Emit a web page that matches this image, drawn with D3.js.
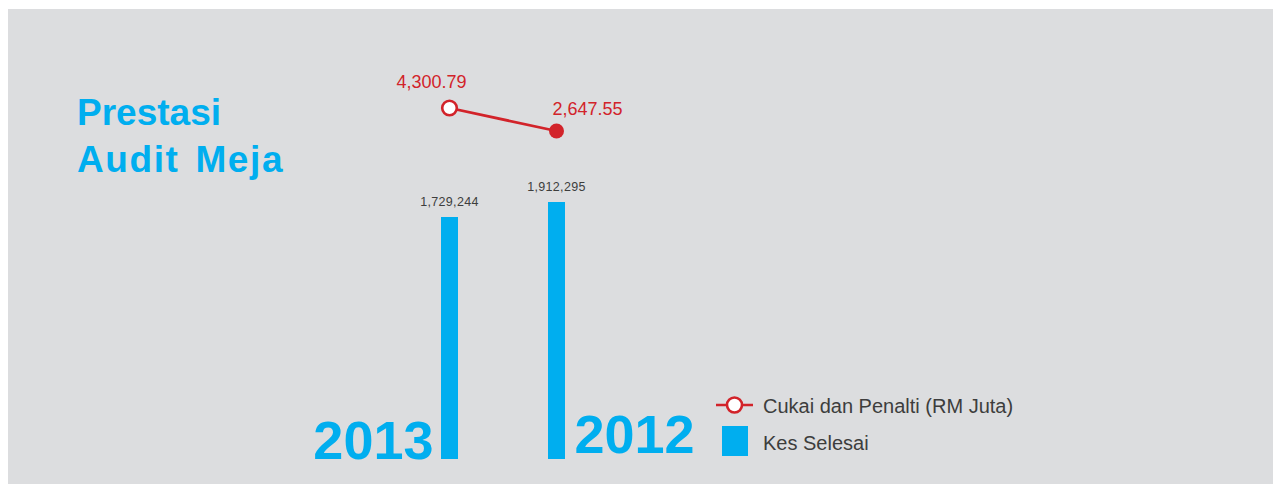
<!DOCTYPE html>
<html>
<head>
<meta charset="utf-8">
<script src="https://cdn.jsdelivr.net/npm/d3@7"></script>
<style>
  body { margin: 0; background: #ffffff; }
  svg { display: block; font-family: "Liberation Sans", Arial, sans-serif; }
</style>
</head>
<body>
<div id="chartDiv"></div>
<script>
// data
var years = ["2013", "2012"];
var kesSelesai = [1729244, 1912295];
var cukaiPenalti = [4300.79, 2647.55];
var legendLabels = ["Cukai dan Penalti (RM Juta)", "Kes Selesai"];
var titleLines = ["Prestasi", "Audit Meja"];

var width = 1274;
var height = 484;
var blue = "#00aeef";
var red = "#d2232a";
var textGrey = "#3d3d3d";

var svg = d3.select("#chartDiv").append("svg")
  .attr("width", width)
  .attr("height", height);

// grey panel
svg.append("rect")
  .attr("x", 8).attr("y", 9)
  .attr("width", width - 9).attr("height", height - 9)
  .attr("fill", "#dcdddf");

// title
svg.append("text")
  .attr("x", 77)
  .attr("fill", blue)
  .style("font-size", "37px")
  .style("font-weight", "bold")
  .selectAll("tspan")
  .data(titleLines)
  .enter().append("tspan")
    .attr("x", 77)
    .attr("y", function(d, i) { return 125 + i * 47; })
    .style("letter-spacing", function(d, i) { return i == 0 ? "0px" : "1.6px"; })
    .style("word-spacing", function(d, i) { return i == 0 ? "0px" : "4px"; })
    .text(function(d) { return d; });

// scales
var x = d3.scalePoint().domain(years).range([449.5, 556.5]);
var yBar = d3.scaleLinear().domain([-1224000, 1912295]).range([459, 202]);
var yLine = d3.scaleLinear().domain([2647.55, 4300.79]).range([131, 108]);
var barWidth = 17;

var fmtBar = d3.format(",");
var fmtLine = d3.format(",.2f");

// bars
svg.selectAll(".bar")
  .data(kesSelesai)
  .enter().append("rect")
    .attr("class", "bar")
    .attr("x", function(d, i) { return x(years[i]) - barWidth / 2; })
    .attr("y", function(d) { return yBar(d); })
    .attr("width", barWidth)
    .attr("height", function(d) { return yBar.range()[0] - yBar(d); })
    .attr("fill", blue);

svg.selectAll(".barLabel")
  .data(kesSelesai)
  .enter().append("text")
    .attr("class", "barLabel")
    .attr("x", function(d, i) { return x(years[i]); })
    .attr("y", function(d) { return yBar(d) - 11; })
    .attr("text-anchor", "middle")
    .attr("fill", textGrey)
    .style("font-size", "12.5px")
    .style("letter-spacing", "0.3px")
    .text(function(d) { return fmtBar(d); });

// year labels
svg.selectAll(".year")
  .data(years)
  .enter().append("text")
    .attr("class", "year")
    .attr("x", function(d, i) { return i == 0 ? x(d) - 16 : x(d) + 18; })
    .attr("y", function(d, i) { return i == 0 ? 459 : 453; })
    .attr("text-anchor", function(d, i) { return i == 0 ? "end" : "start"; })
    .attr("fill", blue)
    .style("font-size", "54px")
    .style("font-weight", "bold")
    .text(function(d) { return d; });

// line
var line = d3.line()
  .x(function(d, i) { return x(years[i]); })
  .y(function(d) { return yLine(d); });

svg.append("path")
  .datum(cukaiPenalti)
  .attr("d", line)
  .attr("fill", "none")
  .attr("stroke", red)
  .attr("stroke-width", 2.8);

svg.selectAll(".dot")
  .data(cukaiPenalti)
  .enter().append("circle")
    .attr("class", "dot")
    .attr("cx", function(d, i) { return x(years[i]); })
    .attr("cy", function(d) { return yLine(d); })
    .attr("r", function(d, i) { return i == 0 ? 7.3 : 7.5; })
    .attr("fill", function(d, i) { return i == 0 ? "#ffffff" : red; })
    .attr("stroke", red)
    .attr("stroke-width", function(d, i) { return i == 0 ? 2.6 : 0; });

var labelOffset = [[-18, -20], [31, -16]];
svg.selectAll(".lineLabel")
  .data(cukaiPenalti)
  .enter().append("text")
    .attr("class", "lineLabel")
    .attr("x", function(d, i) { return x(years[i]) + labelOffset[i][0]; })
    .attr("y", function(d, i) { return yLine(d) + labelOffset[i][1]; })
    .attr("text-anchor", "middle")
    .attr("fill", red)
    .style("font-size", "18px")
    .text(function(d) { return fmtLine(d); });

// legend
var legend = svg.append("g").attr("transform", "translate(716, 405)");

legend.append("line")
  .attr("x1", 0).attr("x2", 37)
  .attr("y1", 0).attr("y2", 0)
  .attr("stroke", red).attr("stroke-width", 2.5);
legend.append("circle")
  .attr("cx", 18.5).attr("cy", 0).attr("r", 7.5)
  .attr("fill", "#ffffff").attr("stroke", red).attr("stroke-width", 2.6);
legend.append("rect")
  .attr("x", 6).attr("y", 21)
  .attr("width", 26).attr("height", 30)
  .attr("fill", blue);

legend.selectAll(".legendText")
  .data(legendLabels)
  .enter().append("text")
    .attr("class", "legendText")
    .attr("x", 47)
    .attr("y", function(d, i) { return 8 + i * 37; })
    .attr("fill", textGrey)
    .style("font-size", "20px")
    .text(function(d) { return d; });
</script>
</body>
</html>
